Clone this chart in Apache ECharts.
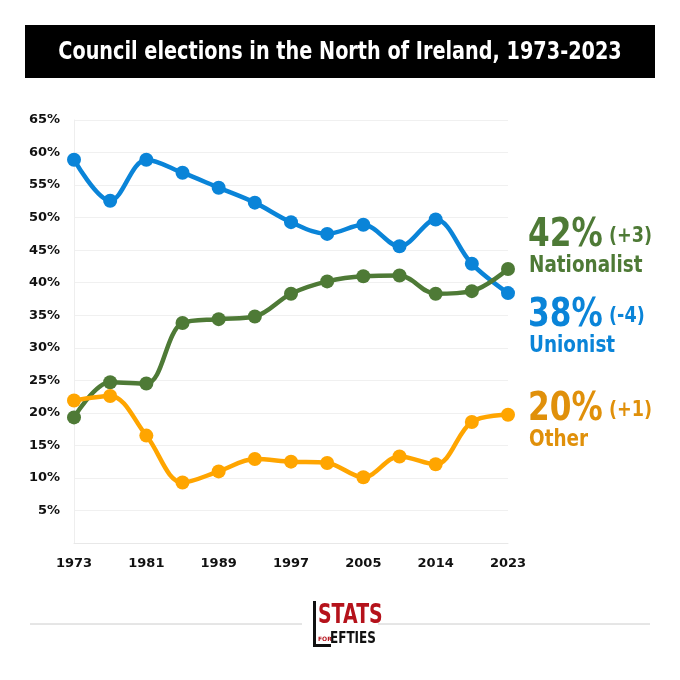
<!DOCTYPE html>
<html><head><meta charset="utf-8">
<script src="https://cdn.jsdelivr.net/npm/echarts@6/dist/echarts.min.js"></script>
<style>html,body{margin:0;padding:0;background:#fff}#c{width:680px;height:680px}</style>
</head><body><div id="c"></div>
<script>
var years = ['1973','1977','1981','1985','1989','1993','1997','2001','2005','2011','2014','2019','2023'];
var unionist = [58.9,52.6,58.9,56.9,54.6,52.3,49.3,47.5,48.9,45.6,49.7,42.9,38.4];
var nationalist = [19.3,24.7,24.5,33.8,34.4,34.8,38.3,40.2,41.0,41.1,38.3,38.7,42.1];
var other = [21.9,22.6,16.5,9.3,11.0,12.9,12.5,12.3,10.1,13.3,12.1,18.6,19.7];
var yTicks = [0,5,10,15,20,25,30,35,40,45,50,55,60,65];
var annotations = [
  {pct:'42%', chg:'(+3)', name:'Nationalist', color:'#4e7a36'},
  {pct:'38%', chg:'(-4)', name:'Unionist', color:'#0a84d8'},
  {pct:'20%', chg:'(+1)', name:'Other', color:'#e0900a'}
];
var FONT = "'DejaVu Sans',sans-serif";
var chart = echarts.init(document.getElementById('c'));
function ser(name, data, color){
  return {name:name,type:'line',data:data,smooth:0.35,symbol:'circle',symbolSize:14,
    lineStyle:{width:4.5,color:color},itemStyle:{color:color},z:3};
}
var annY = [236, 316, 410];
var graphics = [
  {type:'rect',shape:{x:25,y:25,width:630,height:53},style:{fill:'#000'}},
  {type:'text',x:340,y:52,scaleX:0.77,style:{text:'Council elections in the North of Ireland, 1973-2023',fill:'#fff',font:"bold 25px "+FONT,align:'center',verticalAlign:'middle'}},
  {type:'line',shape:{x1:30,y1:624,x2:302,y2:624},style:{stroke:'#ccc',lineWidth:1}},
  {type:'line',shape:{x1:378,y1:624,x2:650,y2:624},style:{stroke:'#ccc',lineWidth:1}},
  {type:'rect',shape:{x:313,y:601,width:3,height:46},style:{fill:'#111'}},
  {type:'text',x:318,y:616,scaleX:0.7,style:{text:'STATS',fill:'#b5121b',font:"bold 27px "+FONT,verticalAlign:'middle'}},
  {type:'text',x:318,y:639,style:{text:'FOR',fill:'#b5121b',font:"bold 6px "+FONT,verticalAlign:'middle'}},
  {type:'text',x:330,y:639,scaleX:0.75,style:{text:'EFTIES',fill:'#111',font:"bold 16px "+FONT,verticalAlign:'middle'}},
  {type:'rect',shape:{x:313,y:644,width:18,height:3},style:{fill:'#111'}}
];
annotations.forEach(function(a,i){
  graphics.push({type:'text',x:528,y:annY[i],scaleX:0.8,style:{
    rich:{p:{font:"bold 39px "+FONT,fill:a.color},s:{width:8},c:{font:"bold 22px "+FONT,fill:a.color}},
    text:'{p|'+a.pct+'}{s| }{c|'+a.chg+'}',verticalAlign:'middle'}});
  graphics.push({type:'text',x:529,y:annY[i]+30,scaleX:0.8,style:{text:a.name,font:"bold 23px "+FONT,fill:a.color,verticalAlign:'middle'}});
});
chart.setOption({
  animation:false,
  textStyle:{fontFamily:FONT},
  grid:{left:74,right:172,top:120,bottom:137,containLabel:false},
  xAxis:{type:'category',data:years,boundaryGap:false,
    axisLine:{lineStyle:{color:'#e8e8e8'}},axisTick:{show:false},
    axisLabel:{interval:1,color:'#111',fontWeight:'bold',fontSize:13,margin:14,fontFamily:FONT}},
  yAxis:{type:'value',min:0,max:65,interval:5,
    axisLine:{show:true,lineStyle:{color:'#eeeeee'}},axisTick:{show:false},
    splitLine:{lineStyle:{color:'#f0f0f0'}},
    axisLabel:{color:'#111',fontWeight:'bold',fontSize:13,margin:14,fontFamily:FONT,
      formatter:function(v){return v===0?'':v+'%';}}},
  series:[ser('Unionist',unionist,'#0a84d8'),ser('Nationalist',nationalist,'#4e7a36'),ser('Other',other,'#ffa500')],
  graphic:graphics
});
</script></body></html>
